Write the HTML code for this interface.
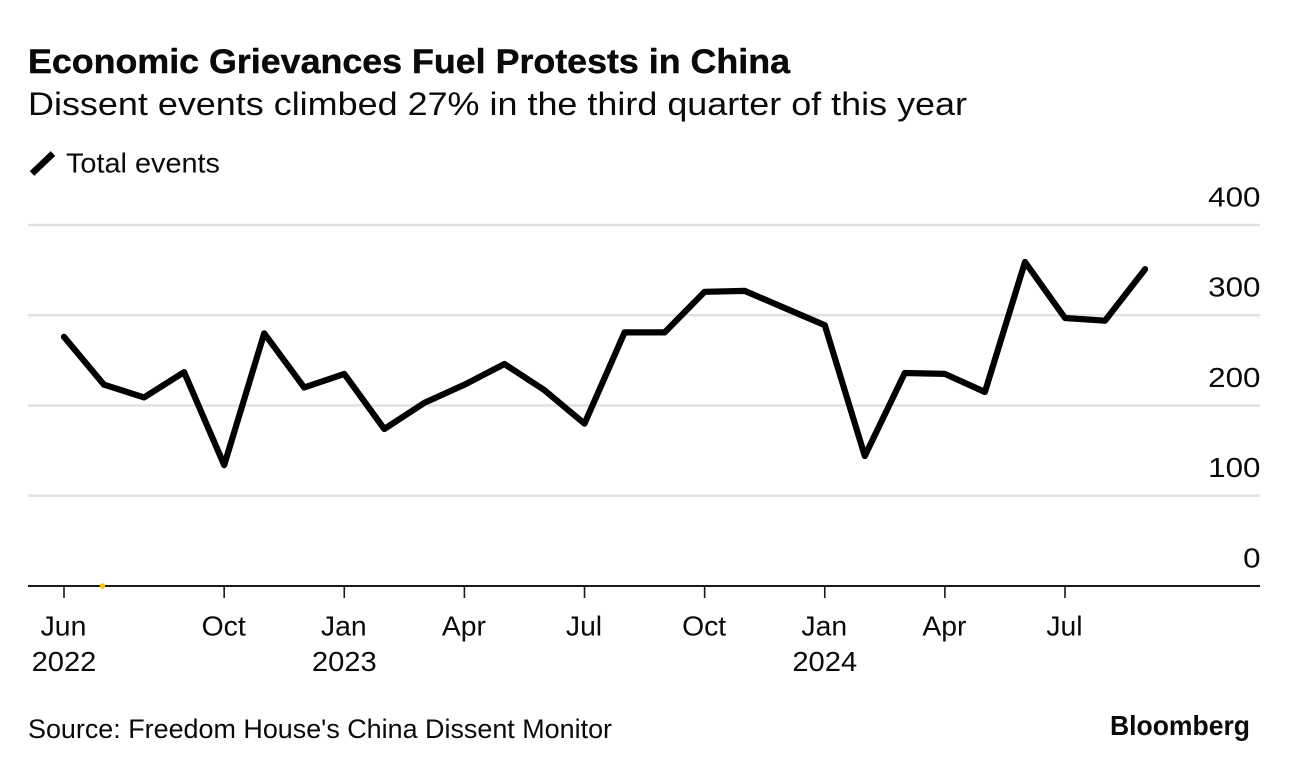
<!DOCTYPE html>
<html lang="en">
<head>
<meta charset="utf-8">
<title>Economic Grievances Fuel Protests in China</title>
<style>
html,body{margin:0;padding:0;background:#fff;width:1289px;height:770px;overflow:hidden}
svg{display:block}
text{font-family:"Liberation Sans",Arial,sans-serif;fill:#0a0a0a}
</style>
</head>
<body>
<svg id="chart" width="1289" height="770" viewBox="0 0 1289 770" xmlns="http://www.w3.org/2000/svg">
  <rect x="0" y="0" width="1289" height="770" fill="#fff"/>
  <text x="28" y="73" font-size="34.5" font-weight="700" fill="#000" stroke="#000" stroke-width="0.4" textLength="762" lengthAdjust="spacingAndGlyphs">Economic Grievances Fuel Protests in China</text>
  <text x="28" y="115" font-size="32.5" textLength="939" lengthAdjust="spacingAndGlyphs">Dissent events climbed 27% in the third quarter of this year</text>
  <line x1="32" y1="173.5" x2="53" y2="153.5" stroke="#000" stroke-width="6.5"/>
  <text x="66" y="172.5" font-size="27.5" textLength="154" lengthAdjust="spacingAndGlyphs">Total events</text>
  <g id="grid"></g>
  <g id="yaxis"></g>
  <g id="xaxis"></g>
  <g id="series"></g>
  <circle cx="102.5" cy="586" r="2.8" fill="#f5c400"/>
  <text x="28" y="738" font-size="26.5" textLength="584" lengthAdjust="spacingAndGlyphs">Source: Freedom House's China Dissent Monitor</text>
  <text x="1110" y="735" font-size="28" font-weight="700" fill="#000" textLength="140" lengthAdjust="spacingAndGlyphs">Bloomberg</text>
</svg>
<script>
const months = ["2022-06","2022-07","2022-08","2022-09","2022-10","2022-11","2022-12","2023-01","2023-02","2023-03","2023-04","2023-05","2023-06","2023-07","2023-08","2023-09","2023-10","2023-11","2023-12","2024-01","2024-02","2024-03","2024-04","2024-05","2024-06","2024-07","2024-08","2024-09"];
const totalEvents = [276,223,209,237,134,280,220,235,174,203,223,246,217,180,281,281,326,327,308,289,144,236,235,215,359,297,294,351];
const yTicks = [0,100,200,300,400];
const xTickMonths = ["2022-06","2022-10","2023-01","2023-04","2023-07","2023-10","2024-01","2024-04","2024-07"];
const xTickLabels = ["Jun","Oct","Jan","Apr","Jul","Oct","Jan","Apr","Jul"];
const xTickYears = ["2022","","2023","","","","2024","",""];

const NS = "http://www.w3.org/2000/svg";
function xScale(month){ return 64 + months.indexOf(month) * 40.04; }
function yScale(value){ return 586 - value * 0.9025; }
function make(tag, attrs, parent, text){
  const el = document.createElementNS(NS, tag);
  for (const k in attrs) el.setAttribute(k, attrs[k]);
  if (text !== undefined) el.textContent = text;
  parent.appendChild(el);
  return el;
}
function widen(el, factor){
  el.setAttribute("textLength", (el.getComputedTextLength() * factor).toFixed(1));
  el.setAttribute("lengthAdjust", "spacingAndGlyphs");
}
const grid = document.getElementById("grid");
const yaxis = document.getElementById("yaxis");
const xaxis = document.getElementById("xaxis");
const series = document.getElementById("series");

yTicks.forEach(function(v){
  if (v !== 0) {
    const g = make("line", {x1:28, x2:1260, y1:yScale(v), y2:yScale(v), stroke:"#e1e1e1", "stroke-width":2.5}, grid);
    
    
  }
  const t = make("text", {x:1260.5, y:yScale(v)-18.6, "font-size":28, "text-anchor":"end"}, yaxis, String(v));
  
  
  widen(t, 1.12);
});

const baseline = make("line", {x1:28, x2:1260, y1:yScale(0), y2:yScale(0), stroke:"#1a1a1a", "stroke-width":2}, xaxis);



xTickMonths.forEach(function(m, i){
  const x = xScale(m);
  const tick = make("line", {x1:x, x2:x, y1:586, y2:598, stroke:"#1a1a1a", "stroke-width":1.6}, xaxis);
  
  
  const label = make("text", {x:x-0.5, y:635.5, "font-size":27.5, "text-anchor":"middle"}, xaxis, xTickLabels[i]);
  
  
  widen(label, 1.03);
  if (xTickYears[i]) {
    const year = make("text", {x:x, y:671, "font-size":28, "text-anchor":"middle"}, xaxis, xTickYears[i]);
    
    
    widen(year, 1.04);
  }
});

const pts = totalEvents.map(function(v, i){
  return xScale(months[i]).toFixed(1) + "," + yScale(v).toFixed(1);
}).join(" ");
const line = make("polyline", {points:pts, fill:"none", stroke:"#000", "stroke-width":6.2, "stroke-linejoin":"round", "stroke-linecap":"round"}, series);


</script>
</body>
</html>
